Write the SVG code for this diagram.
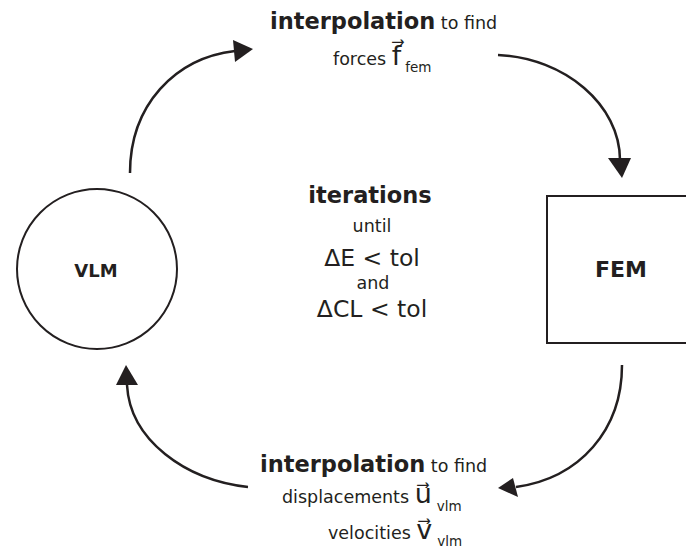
<svg xmlns="http://www.w3.org/2000/svg" width="686" height="550" viewBox="0 0 686 550">
<style>
text{font-family:"DejaVu Sans","Verdana",sans-serif;fill:#231f20}
.b{font-weight:bold}
.big{font-size:22.5px}
.reg{font-size:17.5px}
.mid{font-size:23.5px}
.vec{font-size:27px}
.sub{font-size:13.5px}
.shape{fill:none;stroke:#231f20;stroke-width:2}
.conn{fill:none;stroke:#231f20;stroke-width:2.5}
.head{fill:#231f20}
</style>
<rect width="686" height="550" fill="#fff"/>
<g id="vlm">
<circle class="shape" cx="97" cy="269" r="80"/>
<text class="b" x="96" y="277" font-size="18" text-anchor="middle">VLM</text>
</g>
<g id="fem">
<rect class="shape" x="547" y="196" width="141" height="147"/>
<text class="b" x="621" y="277" font-size="22" text-anchor="middle">FEM</text>
</g>
<g id="center">
<text class="b big" x="370" y="203" text-anchor="middle">iterations</text>
<text class="reg" x="372" y="232" text-anchor="middle">until</text>
<text class="mid" x="372" y="266" text-anchor="middle">ΔE &lt; tol</text>
<text class="reg" x="373" y="289" text-anchor="middle">and</text>
<text class="mid" x="372" y="317" text-anchor="middle">ΔCL &lt; tol</text>
</g>
<g id="top-label">
<text x="270" y="29"><tspan class="b big">interpolation</tspan><tspan class="reg"> to find</tspan></text>
<text x="333" y="65"><tspan class="reg">forces </tspan><tspan class="vec">f⃗</tspan><tspan class="sub" dx="4" dy="7">fem</tspan></text>
</g>
<g id="bottom-label">
<text x="260" y="472"><tspan class="b big">interpolation</tspan><tspan class="reg"> to find</tspan></text>
<text x="282" y="503"><tspan class="reg">displacements </tspan><tspan class="vec">u⃗</tspan><tspan class="sub" dx="5" dy="8">vlm</tspan></text>
<text x="328" y="539"><tspan class="reg">velocities </tspan><tspan class="vec">v⃗</tspan><tspan class="sub" dx="5" dy="7">vlm</tspan></text>
</g>
<g id="connectors">
<path class="conn" d="M130,173 C130,105 175,58 235,51"/>
<polygon class="head" points="253,49 233,40 235,62"/>
<path class="conn" d="M498,55 C565,58 620,105 620,160"/>
<polygon class="head" points="622,178 608,158 631,158"/>
<path class="conn" d="M622,365 C622,430 580,478 516,487"/>
<polygon class="head" points="498,488 513,478 518,497"/>
<path class="conn" d="M248,487 C185,480 130,440 127,385"/>
<polygon class="head" points="126,365 116,385 138,385"/>
</g>
</svg>
